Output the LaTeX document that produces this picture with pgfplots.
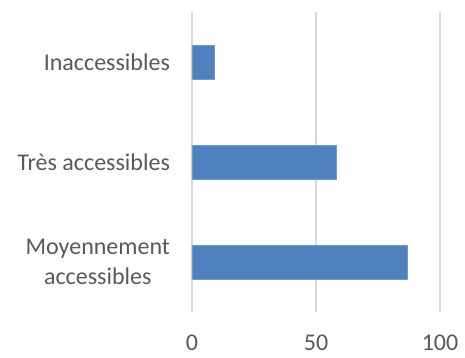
\documentclass[border=0pt]{standalone}
\usepackage{pgfplots}
\pgfplotsset{compat=1.18}
\usepackage{fontspec}
\setmainfont{Carlito}
\definecolor{barblue}{HTML}{4F81BD}
\definecolor{gridgray}{HTML}{D9D9D9}
\definecolor{txtgray}{HTML}{595959}
\begin{document}
\begin{tikzpicture}
\begin{axis}[
  scale only axis,
  width=124pt, height=150pt,
  xbar, bar width=17pt,
  xmin=0, xmax=100,
  ymin=-0.5, ymax=2.5,
  xtick={0,50,100},
  ytick={0,1,2},
  yticklabels={{Moyennement\\accessibles},{Très accessibles},{Inaccessibles}},
  yticklabel style={align=center, font=\fontsize{12}{15}\selectfont, text=txtgray},
  xticklabel style={font=\fontsize{12}{15}\selectfont, text=txtgray},
  /pgf/number format/assume math mode=true,
  axis line style={draw=none},
  major tick length=0pt,
  xmajorgrids,
  grid style={gridgray, line width=0.75pt},
  y tick label style={xshift=-7.5pt},
  x tick label style={yshift=-8pt},
]
\addplot[fill=barblue, draw=barblue!80!white, line width=0.3pt] coordinates {(87,0) (58,1) (9,2)};
\end{axis}
\path[use as bounding box] (-96pt,-19.5pt) rectangle (136.5pt,156pt);
\end{tikzpicture}
\end{document}
